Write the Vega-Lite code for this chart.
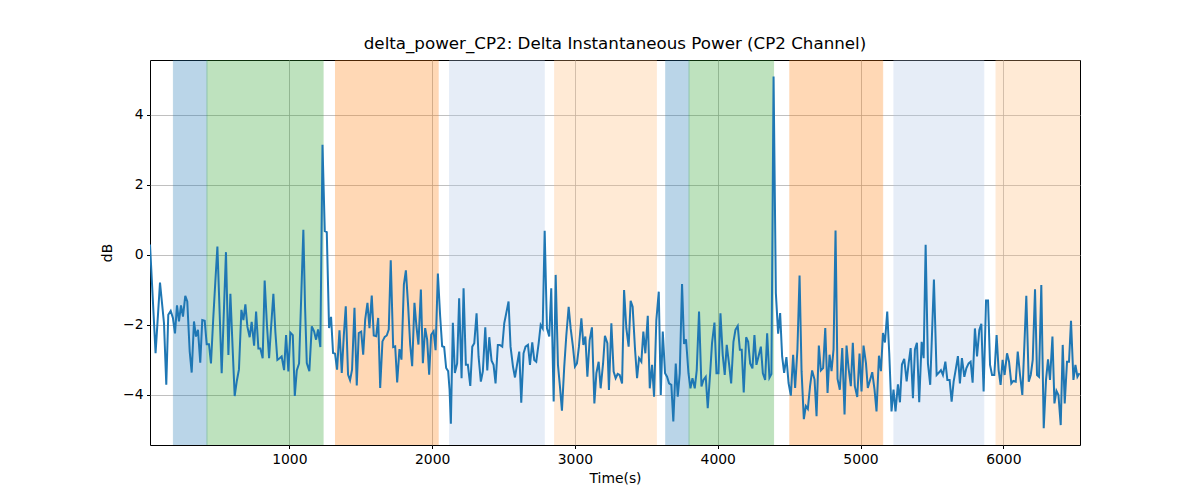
{
  "$schema": "https://vega.github.io/schema/vega-lite/v6.json",
  "width": 930,
  "height": 385,
  "autosize": {"type": "none"},
  "padding": {"left": 150, "top": 60, "right": 120, "bottom": 55},
  "background": "white",
  "title": {"text": "delta_power_CP2: Delta Instantaneous Power (CP2 Channel)", "fontSize": 16.7, "fontWeight": "normal", "font": "DejaVu Sans", "color": "black", "offset": 7, "anchor": "middle", "frame": "group"},
  "config": {
    "font": "DejaVu Sans",
    "view": {"stroke": "black", "strokeWidth": 1},
    "axis": {"labelFont": "DejaVu Sans", "titleFont": "DejaVu Sans", "labelFontSize": 13.9, "titleFontSize": 13.9, "titleFontWeight": "normal", "labelColor": "black", "titleColor": "black", "tickColor": "black", "tickSize": 3.5, "domain": false, "grid": true, "gridColor": "#b0b0b0", "gridWidth": 0.8, "zindex": 1}
  },
  "datasets": {
    "spans": [
      {"start": 188, "end": 423, "kind": "blue"},
      {"start": 423, "end": 1236, "kind": "green"},
      {"start": 1323, "end": 2042, "kind": "orange"},
      {"start": 2122, "end": 2785, "kind": "lightblue"},
      {"start": 2858, "end": 3570, "kind": "lightorange"},
      {"start": 3636, "end": 3799, "kind": "blue"},
      {"start": 3799, "end": 4391, "kind": "green"},
      {"start": 4505, "end": 5155, "kind": "orange"},
      {"start": 5234, "end": 5863, "kind": "lightblue"},
      {"start": 5949, "end": 6537, "kind": "lightorange"}
    ],
    "series": [
      {"t":24,"v":0.3},{"t":63,"v":-2.81},{"t":94,"v":-0.79},{"t":122,"v":-1.95},{"t":138,"v":-3.71},{"t":152,"v":-1.71},{"t":169,"v":-1.6},{"t":185,"v":-1.81},{"t":199,"v":-2.24},{"t":213,"v":-1.44},{"t":227,"v":-1.9},{"t":241,"v":-1.44},{"t":255,"v":-1.76},{"t":271,"v":-1.17},{"t":285,"v":-1.33},{"t":302,"v":-2.76},{"t":316,"v":-3.36},{"t":332,"v":-1.9},{"t":346,"v":-2.33},{"t":360,"v":-2.14},{"t":376,"v":-3.08},{"t":390,"v":-1.86},{"t":407,"v":-1.88},{"t":421,"v":-2.55},{"t":437,"v":-2.55},{"t":451,"v":-3.1},{"t":467,"v":-1.81},{"t":481,"v":-0.8},{"t":496,"v":0.24},{"t":526,"v":-3.38},{"t":556,"v":0.08},{"t":573,"v":-2.86},{"t":587,"v":-1.11},{"t":602,"v":-2.6},{"t":617,"v":-4.03},{"t":632,"v":-3.6},{"t":647,"v":-3.27},{"t":664,"v":-1.57},{"t":678,"v":-1.86},{"t":692,"v":-1.41},{"t":706,"v":-2.05},{"t":722,"v":-2.35},{"t":736,"v":-1.91},{"t":753,"v":-2.59},{"t":767,"v":-1.62},{"t":783,"v":-2.67},{"t":797,"v":-2.67},{"t":813,"v":-2.95},{"t":827,"v":-0.73},{"t":843,"v":-2.0},{"t":858,"v":-2.95},{"t":873,"v":-2.0},{"t":888,"v":-1.11},{"t":902,"v":-2.2},{"t":916,"v":-3.0},{"t":932,"v":-2.95},{"t":946,"v":-2.9},{"t":963,"v":-3.29},{"t":977,"v":-2.29},{"t":993,"v":-3.33},{"t":1007,"v":-2.22},{"t":1024,"v":-2.29},{"t":1038,"v":-4.03},{"t":1052,"v":-3.3},{"t":1068,"v":-3.1},{"t":1083,"v":-1.2},{"t":1098,"v":0.72},{"t":1110,"v":-1.5},{"t":1122,"v":-3.09},{"t":1140,"v":-3.32},{"t":1157,"v":-2.04},{"t":1173,"v":-2.18},{"t":1187,"v":-2.42},{"t":1201,"v":-2.13},{"t":1217,"v":-2.63},{"t":1232,"v":3.15},{"t":1248,"v":0.68},{"t":1262,"v":0.65},{"t":1278,"v":-2.09},{"t":1292,"v":-1.77},{"t":1306,"v":-2.8},{"t":1320,"v":-2.82},{"t":1334,"v":-3.28},{"t":1351,"v":-2.15},{"t":1367,"v":-3.37},{"t":1381,"v":-2.32},{"t":1395,"v":-1.47},{"t":1411,"v":-3.42},{"t":1425,"v":-3.58},{"t":1439,"v":-3.28},{"t":1456,"v":-1.51},{"t":1472,"v":-3.73},{"t":1486,"v":-2.23},{"t":1503,"v":-2.19},{"t":1517,"v":-2.85},{"t":1531,"v":-1.85},{"t":1547,"v":-1.37},{"t":1561,"v":-2.09},{"t":1577,"v":-1.16},{"t":1591,"v":-2.3},{"t":1608,"v":-2.32},{"t":1622,"v":-1.8},{"t":1636,"v":-3.8},{"t":1652,"v":-2.47},{"t":1668,"v":-2.34},{"t":1682,"v":-2.3},{"t":1696,"v":-2.13},{"t":1710,"v":-0.15},{"t":1727,"v":-2.63},{"t":1741,"v":-2.61},{"t":1755,"v":-3.64},{"t":1771,"v":-2.69},{"t":1785,"v":-2.99},{"t":1802,"v":-0.85},{"t":1816,"v":-0.44},{"t":1832,"v":-1.47},{"t":1846,"v":-2.56},{"t":1860,"v":-3.18},{"t":1876,"v":-1.37},{"t":1890,"v":-2.04},{"t":1904,"v":-2.56},{"t":1921,"v":-0.99},{"t":1935,"v":-3.09},{"t":1951,"v":-2.09},{"t":1965,"v":-2.42},{"t":1979,"v":-3.42},{"t":1993,"v":-2.28},{"t":2010,"v":-2.18},{"t":2024,"v":-2.72},{"t":2040,"v":-0.53},{"t":2056,"v":-1.75},{"t":2070,"v":-2.61},{"t":2084,"v":-2.63},{"t":2098,"v":-3.23},{"t":2112,"v":-3.32},{"t":2122,"v":-3.85},{"t":2131,"v":-4.82},{"t":2145,"v":-1.94},{"t":2159,"v":-3.37},{"t":2175,"v":-3.1},{"t":2189,"v":-1.24},{"t":2206,"v":-3.52},{"t":2220,"v":-0.95},{"t":2236,"v":-3.14},{"t":2250,"v":-3.14},{"t":2267,"v":-3.74},{"t":2281,"v":-2.62},{"t":2295,"v":-2.52},{"t":2311,"v":-1.67},{"t":2325,"v":-2.9},{"t":2341,"v":-3.62},{"t":2355,"v":-3.33},{"t":2372,"v":-2.07},{"t":2386,"v":-3.3},{"t":2400,"v":-2.35},{"t":2416,"v":-3.02},{"t":2430,"v":-3.14},{"t":2444,"v":-3.67},{"t":2460,"v":-2.57},{"t":2474,"v":-2.57},{"t":2491,"v":-2.62},{"t":2505,"v":-1.95},{"t":2521,"v":-1.62},{"t":2535,"v":-1.33},{"t":2549,"v":-2.62},{"t":2566,"v":-3.19},{"t":2580,"v":-3.5},{"t":2596,"v":-3.1},{"t":2610,"v":-2.76},{"t":2624,"v":-4.22},{"t":2640,"v":-2.81},{"t":2654,"v":-2.62},{"t":2671,"v":-2.57},{"t":2685,"v":-3.14},{"t":2701,"v":-2.5},{"t":2715,"v":-3.0},{"t":2729,"v":-3.05},{"t":2746,"v":-2.52},{"t":2760,"v":-2.0},{"t":2774,"v":-2.1},{"t":2788,"v":0.69},{"t":2804,"v":-2.1},{"t":2820,"v":-2.33},{"t":2834,"v":-0.95},{"t":2851,"v":-4.19},{"t":2865,"v":-0.57},{"t":2881,"v":-3.14},{"t":2895,"v":-3.76},{"t":2909,"v":-4.45},{"t":2925,"v":-3.19},{"t":2939,"v":-2.33},{"t":2956,"v":-1.48},{"t":2970,"v":-2.1},{"t":2986,"v":-2.62},{"t":3000,"v":-3.19},{"t":3014,"v":-3.1},{"t":3028,"v":-2.62},{"t":3045,"v":-1.81},{"t":3059,"v":-2.57},{"t":3073,"v":-2.33},{"t":3087,"v":-3.48},{"t":3103,"v":-2.43},{"t":3119,"v":-2.07},{"t":3136,"v":-4.24},{"t":3150,"v":-3.38},{"t":3166,"v":-3.05},{"t":3180,"v":-3.81},{"t":3197,"v":-3.1},{"t":3210,"v":-2.31},{"t":3227,"v":-2.52},{"t":3238,"v":-3.86},{"t":3255,"v":-1.95},{"t":3271,"v":-3.33},{"t":3285,"v":-3.52},{"t":3299,"v":-3.4},{"t":3313,"v":-3.43},{"t":3330,"v":-3.67},{"t":3344,"v":-1.0},{"t":3360,"v":-2.1},{"t":3376,"v":-2.62},{"t":3390,"v":-1.31},{"t":3404,"v":-1.48},{"t":3421,"v":-2.71},{"t":3435,"v":-3.52},{"t":3449,"v":-2.95},{"t":3465,"v":-3.05},{"t":3479,"v":-2.19},{"t":3493,"v":-2.81},{"t":3510,"v":-1.74},{"t":3524,"v":-3.81},{"t":3540,"v":-3.14},{"t":3554,"v":-4.05},{"t":3570,"v":-1.86},{"t":3587,"v":-1.05},{"t":3601,"v":-4.0},{"t":3615,"v":-2.19},{"t":3631,"v":-3.38},{"t":3645,"v":-3.48},{"t":3659,"v":-3.67},{"t":3675,"v":-3.71},{"t":3689,"v":-4.76},{"t":3706,"v":-3.1},{"t":3720,"v":-4.05},{"t":3734,"v":-3.38},{"t":3750,"v":-0.83},{"t":3764,"v":-2.54},{"t":3778,"v":-2.41},{"t":3795,"v":-3.38},{"t":3809,"v":-3.81},{"t":3823,"v":-3.52},{"t":3839,"v":-3.81},{"t":3853,"v":-3.29},{"t":3869,"v":-1.62},{"t":3886,"v":-3.76},{"t":3900,"v":-3.57},{"t":3916,"v":-3.48},{"t":3930,"v":-4.38},{"t":3946,"v":-3.43},{"t":3960,"v":-2.52},{"t":3977,"v":-1.93},{"t":3991,"v":-3.38},{"t":4005,"v":-3.38},{"t":4019,"v":-1.67},{"t":4035,"v":-2.86},{"t":4049,"v":-3.43},{"t":4063,"v":-2.57},{"t":4080,"v":-3.14},{"t":4094,"v":-3.67},{"t":4110,"v":-2.48},{"t":4124,"v":-2.14},{"t":4140,"v":-2.03},{"t":4155,"v":-2.71},{"t":4168,"v":-2.71},{"t":4182,"v":-3.93},{"t":4199,"v":-2.35},{"t":4213,"v":-2.48},{"t":4227,"v":-3.1},{"t":4243,"v":-3.24},{"t":4257,"v":-2.29},{"t":4271,"v":-3.14},{"t":4288,"v":-2.86},{"t":4302,"v":-2.62},{"t":4316,"v":-3.38},{"t":4332,"v":-3.57},{"t":4346,"v":-2.24},{"t":4362,"v":-3.51},{"t":4376,"v":-3.4},{"t":4391,"v":5.1},{"t":4407,"v":-1.09},{"t":4423,"v":-2.25},{"t":4437,"v":-1.66},{"t":4451,"v":-2.9},{"t":4465,"v":-3.37},{"t":4481,"v":-2.92},{"t":4496,"v":-3.66},{"t":4512,"v":-4.02},{"t":4528,"v":-2.85},{"t":4542,"v":-3.8},{"t":4558,"v":-2.7},{"t":4573,"v":-0.59},{"t":4587,"v":-3.32},{"t":4603,"v":-4.69},{"t":4617,"v":-4.32},{"t":4631,"v":-4.4},{"t":4647,"v":-3.73},{"t":4661,"v":-3.3},{"t":4678,"v":-3.56},{"t":4692,"v":-4.61},{"t":4708,"v":-2.59},{"t":4722,"v":-3.3},{"t":4738,"v":-3.23},{"t":4753,"v":-2.09},{"t":4769,"v":-3.94},{"t":4783,"v":-2.85},{"t":4797,"v":-3.32},{"t":4811,"v":-2.7},{"t":4825,"v":0.7},{"t":4839,"v":-3.54},{"t":4855,"v":-3.85},{"t":4872,"v":-2.66},{"t":4888,"v":-4.56},{"t":4902,"v":-2.59},{"t":4916,"v":-3.23},{"t":4932,"v":-3.75},{"t":4946,"v":-2.51},{"t":4960,"v":-3.75},{"t":4977,"v":-4.06},{"t":4993,"v":-2.82},{"t":5007,"v":-3.9},{"t":5021,"v":-2.59},{"t":5038,"v":-3.09},{"t":5051,"v":-3.8},{"t":5068,"v":-3.56},{"t":5082,"v":-3.35},{"t":5098,"v":-3.85},{"t":5112,"v":-4.47},{"t":5129,"v":-2.88},{"t":5143,"v":-3.32},{"t":5157,"v":-2.23},{"t":5171,"v":-2.5},{"t":5187,"v":-1.62},{"t":5201,"v":-2.8},{"t":5217,"v":-4.47},{"t":5231,"v":-3.85},{"t":5245,"v":-4.47},{"t":5262,"v":-3.7},{"t":5276,"v":-4.21},{"t":5290,"v":-3.13},{"t":5306,"v":-2.97},{"t":5323,"v":-3.61},{"t":5337,"v":-3.09},{"t":5351,"v":-2.66},{"t":5367,"v":-4.09},{"t":5381,"v":-2.7},{"t":5395,"v":-2.51},{"t":5411,"v":-4.21},{"t":5428,"v":-2.48},{"t":5442,"v":-2.95},{"t":5456,"v":0.29},{"t":5472,"v":-3.1},{"t":5488,"v":-3.71},{"t":5514,"v":-0.7},{"t":5533,"v":-3.43},{"t":5549,"v":-3.36},{"t":5563,"v":-3.29},{"t":5577,"v":-3.43},{"t":5594,"v":-3.05},{"t":5608,"v":-3.57},{"t":5624,"v":-3.57},{"t":5638,"v":-4.19},{"t":5652,"v":-3.62},{"t":5666,"v":-3.29},{"t":5682,"v":-2.89},{"t":5696,"v":-3.67},{"t":5710,"v":-2.95},{"t":5727,"v":-3.48},{"t":5741,"v":-3.24},{"t":5757,"v":-3.1},{"t":5771,"v":-3.05},{"t":5785,"v":-3.65},{"t":5801,"v":-2.1},{"t":5816,"v":-2.9},{"t":5832,"v":-2.14},{"t":5846,"v":-1.97},{"t":5862,"v":-3.9},{"t":5879,"v":-1.3},{"t":5893,"v":-1.3},{"t":5907,"v":-3.14},{"t":5921,"v":-3.43},{"t":5937,"v":-3.43},{"t":5953,"v":-2.29},{"t":5967,"v":-3.29},{"t":5981,"v":-3.71},{"t":5995,"v":-3.0},{"t":6009,"v":-3.43},{"t":6026,"v":-2.81},{"t":6040,"v":-3.05},{"t":6056,"v":-3.67},{"t":6070,"v":-3.6},{"t":6087,"v":-3.62},{"t":6101,"v":-2.76},{"t":6117,"v":-3.43},{"t":6133,"v":-4.0},{"t":6147,"v":-2.62},{"t":6161,"v":-1.17},{"t":6178,"v":-3.62},{"t":6192,"v":-3.43},{"t":6206,"v":-3.0},{"t":6222,"v":-0.98},{"t":6236,"v":-3.43},{"t":6250,"v":-3.48},{"t":6266,"v":-0.86},{"t":6283,"v":-4.95},{"t":6299,"v":-3.57},{"t":6313,"v":-2.98},{"t":6327,"v":-3.57},{"t":6344,"v":-2.33},{"t":6358,"v":-4.24},{"t":6372,"v":-3.88},{"t":6386,"v":-4.0},{"t":6402,"v":-4.86},{"t":6416,"v":-2.57},{"t":6430,"v":-4.24},{"t":6446,"v":-3.05},{"t":6460,"v":-3.05},{"t":6474,"v":-1.88},{"t":6491,"v":-3.57},{"t":6505,"v":-3.14},{"t":6519,"v":-3.48},{"t":6533,"v":-3.38}
    ]
  },
  "layer": [
    {
      "data": {"name": "spans"},
      "mark": {"type": "rect", "opacity": 0.3, "strokeWidth": 1, "clip": true},
      "encoding": {
        "x": {"field": "start", "type": "quantitative", "scale": {"domain": [24, 6537], "nice": false, "zero": false},
              "axis": {"title": "Time(s)", "values": [1000, 2000, 3000, 4000, 5000, 6000], "format": "d", "labelPadding": 3.5, "titlePadding": 6}},
        "x2": {"field": "end"},
        "color": {"field": "kind", "type": "nominal", "legend": null,
                  "scale": {"domain": ["blue", "green", "orange", "lightblue", "lightorange"], "range": ["#1f77b4", "#2ca02c", "#ff7f0e", "#aec7e8", "#ffbb78"]}},
        "stroke": {"field": "kind", "type": "nominal", "legend": null,
                  "scale": {"domain": ["blue", "green", "orange", "lightblue", "lightorange"], "range": ["#1f77b4", "#2ca02c", "#ff7f0e", "#aec7e8", "#ffbb78"]}}
      }
    },
    {
      "data": {"name": "series"},
      "mark": {"type": "line", "color": "#1f77b4", "strokeWidth": 2, "clip": true},
      "encoding": {
        "x": {"field": "t", "type": "quantitative"},
        "y": {"field": "v", "type": "quantitative", "scale": {"domain": [-5.43, 5.57], "nice": false, "zero": false},
              "axis": {"title": "dB", "values": [-4, -2, 0, 2, 4], "labelPadding": 3.5, "titlePadding": 8}}
      }
    }
  ]
}
